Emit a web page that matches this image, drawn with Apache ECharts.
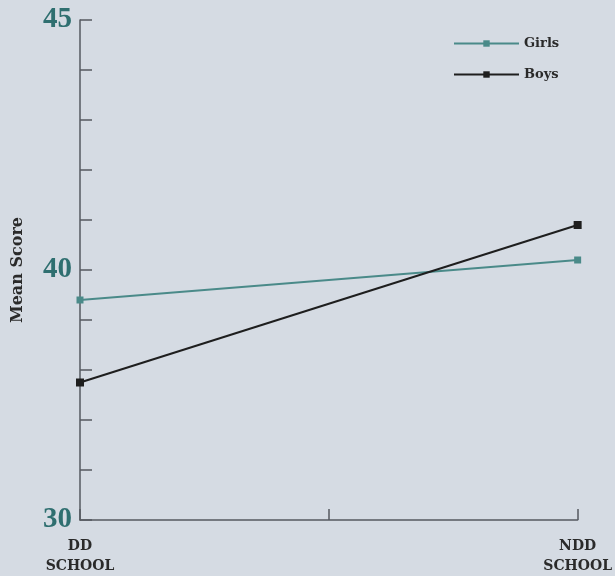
<!DOCTYPE html>
<html>
<head>
<meta charset="utf-8">
<script src="https://cdn.jsdelivr.net/npm/echarts@6/dist/echarts.min.js"></script>
<style>
html,body{margin:0;padding:0;background:#d5dbe3;}
#chart{width:615px;height:576px;}
</style>
</head>
<body>
<div id="chart"></div>
<script>
// Categories (middle slot is the unlabeled centre tick)
var xCategories = ['DD\nSCHOOL', '', 'NDD\nSCHOOL'];
// Series values
var girls = [39.4, null, 40.2];
var boys = [37.75, null, 40.9];
// Y tick labels as printed on the reference
var yTickValues = [35, 40, 45];
var yTickLabels = ['30', '40', '45'];

var chart = echarts.init(document.getElementById('chart'));
var serif = '"DejaVu Serif", serif';
chart.setOption({
  backgroundColor: '#d5dbe3',
  animation: false,
  grid: {left: 80, right: 33, top: 20, bottom: 53},
  legend: {
    orient: 'vertical',
    left: 453, top: 37, padding: 0,
    itemWidth: 65, itemHeight: 8, itemGap: 18,
    textStyle: {fontFamily: serif, fontWeight: 'bold', fontSize: 13, color: '#2a2a2a'},
    data: ['Girls', 'Boys']
  },
  xAxis: {
    type: 'category',
    data: xCategories,
    boundaryGap: false,
    axisLine: {lineStyle: {color: '#555a60', width: 1.5}},
    axisTick: {inside: true, length: 11, lineStyle: {color: '#555a60', width: 1.5}},
    axisLabel: {fontFamily: serif, fontWeight: 'bold', fontSize: 14, color: '#2a2a2a', lineHeight: 20, margin: 16, interval: 0}
  },
  yAxis: {
    type: 'value',
    min: 35, max: 45, interval: 1,
    name: 'Mean Score',
    nameLocation: 'middle',
    nameGap: 54,
    nameRotate: 90,
    nameTextStyle: {fontFamily: serif, fontWeight: 'bold', fontSize: 16, color: '#2a2a2a'},
    splitLine: {show: false},
    axisLine: {show: true, lineStyle: {color: '#555a60', width: 1.5}},
    axisTick: {show: true, inside: true, length: 12, lineStyle: {color: '#555a60', width: 1.5}},
    axisLabel: {
      fontFamily: '"Liberation Serif", serif', fontWeight: 'bold', fontSize: 29, color: '#2f6f70', margin: 8,
      formatter: function (v) {
        var i = yTickValues.indexOf(v);
        return i >= 0 ? yTickLabels[i] : '';
      }
    }
  },
  series: [
    {
      name: 'Girls', type: 'line', data: girls, connectNulls: true,
      symbol: 'rect', symbolSize: 7,
      itemStyle: {color: '#4a8a89'},
      lineStyle: {color: '#4a8a89', width: 2}
    },
    {
      name: 'Boys', type: 'line', data: boys, connectNulls: true,
      symbol: 'rect', symbolSize: 8,
      itemStyle: {color: '#1e1e1e'},
      lineStyle: {color: '#1e1e1e', width: 2}
    }
  ]
});
</script>
</body>
</html>
